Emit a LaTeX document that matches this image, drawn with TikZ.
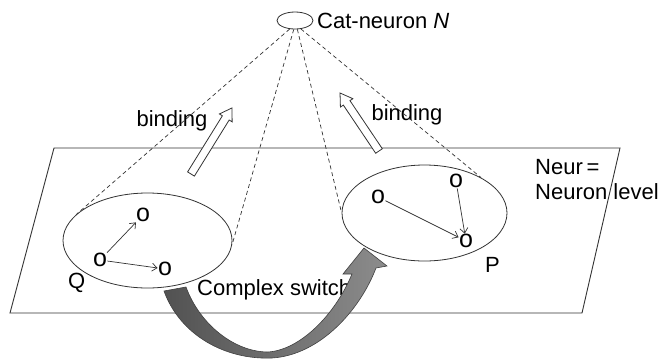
\documentclass[tikz,border=0pt]{standalone}
\usepackage{fontspec}
\setmainfont{Liberation Sans}
\usetikzlibrary{shapes.geometric,arrows.meta}
\begin{document}
\begin{tikzpicture}[x=1pt,y=-1pt,
  lbl/.style={font=\fontsize{22}{25}\selectfont, inner sep=0pt, text=black},
  ell/.style={draw=black!80, ellipse, line width=0.8pt, inner sep=0pt},
  onode/.style={font=\fontsize{25}{25}\selectfont, inner sep=0.3pt, text=black},
  link/.style={draw=black!80, line width=0.7pt, -{Straight Barb[length=5pt,width=8pt]}},
  dashline/.style={draw=black!80, line width=0.7pt, dash pattern=on 4pt off 3pt},
  planeline/.style={draw=black!80, line width=0.9pt},
  hollowarrow/.style={draw=black!80, line width=0.8pt, fill=white}
]
\useasboundingbox (0,0) rectangle (659,360);
\fill[white] (0,0) rectangle (659,360);

% plane
\draw[planeline] (54,148) -- (620,148) -- (582,313) -- (10,313) -- cycle;

% complex switch label
\node[lbl, anchor=base west] (cs) at (197,295) {Complex switch};

% big curved arrow
\path[draw=black!75, line width=0.6pt, left color=black!68, right color=black!45]
  (164,291) .. controls (180,335) and (225,360) .. (272,358)
  .. controls (320,355) and (360,310) .. (376,268)
  -- (387,266) -- (364,248) -- (343,274) -- (352,274)
  .. controls (335,315) and (300,350) .. (268,352)
  .. controls (235,352) and (200,325) .. (186,287) -- cycle;

% ellipses
\node[ell, minimum width=169, minimum height=95] (Q) at (147.5,240.5) {};
\node[ell, minimum width=165, minimum height=96] (P) at (424.5,213) {};
\node[ell, minimum width=36, minimum height=17] (N) at (295,20.5) {};

% labels
\node[lbl, anchor=base west] (catlbl) at (317,28) {Cat-neuron \textit{N}};
\node[lbl] (bind1) at (172,121) {binding};
\node[lbl] (bind2) at (407,115) {binding};
\node[lbl, anchor=base west] (neur1) at (535,174) {Neur\,=};
\node[lbl, anchor=base west] (neur2) at (535,199) {Neuron level};
\node[lbl, anchor=base west] (qlbl) at (68,288) {Q};
\node[lbl, anchor=base west] (plbl) at (485,272) {P};

% small nodes
\node[onode] (q1) at (143,215) {o};
\node[onode] (q2) at (100,260) {o};
\node[onode] (q3) at (165,269) {o};
\node[onode] (p1) at (378,197) {o};
\node[onode] (p2) at (456,181) {o};
\node[onode] (p3) at (466,241) {o};

\draw[link] (q2) -- (q1);
\draw[link] (q2) -- (q3);
\draw[link] (p1) -- (p3);
\draw[link] (p2) -- (p3);

% dashed projections
\draw[dashline] (N.238) -- (Q.160);
\draw[dashline] (N.262) -- (Q.357);
\draw[dashline] (N.285) -- (P.180);
\draw[dashline] (N.305) -- (P.32);

% binding arrows
\begin{scope}[shift={(191,174)}, rotate=58.2]
  \draw[hollowarrow] (0,-4) -- (66,-4) -- (66,-7.5) -- (77.7,0) -- (66,7.5) -- (66,4) -- (0,4) -- cycle;
\end{scope}
\begin{scope}[shift={(379,151)}, rotate=123.9]
  \draw[hollowarrow] (0,-4) -- (58,-4) -- (58,-7.5) -- (69.9,0) -- (58,7.5) -- (58,4) -- (0,4) -- cycle;
\end{scope}
\end{tikzpicture}
\end{document}
